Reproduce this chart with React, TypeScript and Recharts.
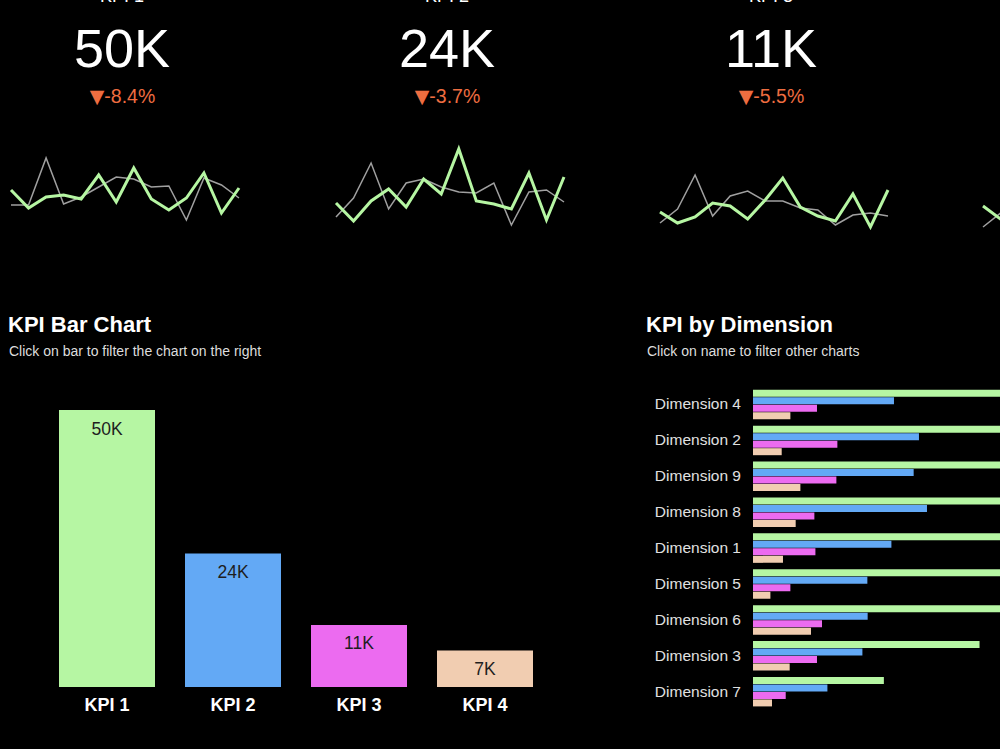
import React from 'react';
import { BarChart, Bar, XAxis, YAxis, LineChart, Line, LabelList, Cell } from 'recharts';

const FONT = '"Liberation Sans", Arial, Helvetica, sans-serif';

// KPI summary
const kpiNames = ['KPI 1', 'KPI 2', 'KPI 3', 'KPI 4'];
const kpiTotals = [50000, 24100, 11200, 6600];
const kpiDeltas = [-8.4, -3.7, -5.5, -2.9];
const kpiColors = ['#b6f6a3', '#63a9f5', '#ec6bf0', '#f1cdb1'];

// Sparklines: current period (green) and previous period (gray)
const spark1Current = [40, 22, 33, 35, 31, 55, 28, 62, 31, 20, 32, 57, 17, 42];
const spark1Previous = [25, 25, 72, 26, 33, 43, 53, 51, 43, 44, 10, 52, 45, 32];
const spark2Current = [27, 9, 29, 41, 23, 51, 36, 81, 29, 26, 21, 57, 10, 53];
const spark2Previous = [13, 32, 67, 21, 47, 51, 43, 38, 37, 47, 5, 38, 40, 28];
const spark3Current = [18, 7, 13, 27, 24, 11, 30, 52, 23, 14, 9, 36, 3, 40];
const spark3Previous = [7, 21, 55, 14, 34, 39, 29, 29, 22, 20, 5, 15, 17, 14];
const spark4Current = [24, 11, 20, 30, 18, 26, 15, 34, 22, 12, 19, 28, 8, 25];
const spark4Previous = [3, 17, 30, 12, 22, 25, 18, 20, 16, 14, 6, 13, 15, 12];

const sparkCurrent = [spark1Current, spark2Current, spark3Current, spark4Current];
const sparkPrevious = [spark1Previous, spark2Previous, spark3Previous, spark4Previous];
const panelLefts = [5, 330, 654, 977];

// KPI by dimension
const dimensionNames = ['Dimension 4', 'Dimension 2', 'Dimension 9', 'Dimension 8', 'Dimension 1', 'Dimension 5', 'Dimension 6', 'Dimension 3', 'Dimension 7'];
const dimKpi1 = [6900, 6500, 6300, 6100, 6000, 5700, 5400, 4570, 2640];
const dimKpi2 = [2844, 3348, 3241, 3510, 2792, 2307, 2313, 2207, 1501];
const dimKpi3 = [1291, 1702, 1682, 1238, 1259, 754, 1392, 1291, 660];
const dimKpi4 = [754, 579, 956, 861, 605, 351, 1170, 740, 383];

const fmtK = (v: number) => `${Math.round(v / 1000)}K`;

function Sparkline({ current, previous, left }: { current: number[]; previous: number[]; left: number }) {
  const data = current.map((c, i) => ({ i, current: c, previous: previous[i] }));
  return (
    <div style={{ position: 'absolute', left, top: 130 }}>
      <LineChart width={240} height={110} data={data} margin={{ top: 10, right: 6, bottom: 10, left: 6 }}>
        <XAxis dataKey="i" hide />
        <YAxis hide domain={[0, 90]} />
        <Line type="linear" dataKey="previous" stroke="#a0a0a0" strokeWidth={1.5} dot={false} activeDot={false} isAnimationActive={false} />
        <Line type="linear" dataKey="current" stroke={kpiColors[0]} strokeWidth={3} dot={false} activeDot={false} isAnimationActive={false} />
      </LineChart>
    </div>
  );
}

const KpiTick = (props: any) => {
  const { x, y, payload } = props;
  return (
    <text x={x} y={y + 16} textAnchor="middle" fill="#ffffff" fontSize={18} fontWeight="bold" fontFamily={FONT}>
      {payload.value}
    </text>
  );
};

const BarValueLabel = (props: any) => {
  const { x, y, width, value } = props;
  return (
    <text x={x + width / 2} y={y + 24.5} textAnchor="middle" fill="#1e1e1e" fontSize={17.5} fontFamily={FONT}>
      {fmtK(value)}
    </text>
  );
};

export default function App() {
  const kpiBarData = kpiNames.map((name, i) => ({ name, value: kpiTotals[i] }));
  const dimData = dimensionNames.map((name, i) => ({
    name,
    kpi1: dimKpi1[i],
    kpi2: dimKpi2[i],
    kpi3: dimKpi3[i],
    kpi4: dimKpi4[i],
  }));

  return (
    <div style={{ position: 'fixed', left: 0, top: 0, width: 1000, height: 749, background: '#000', overflow: 'hidden', fontFamily: FONT }}>
      <svg width={1000} height={749} style={{ position: 'absolute', left: 0, top: 0 }}>
        {kpiNames.map((name, i) => {
          const cx = panelLefts[i] + 117;
          return (
            <g key={name}>
              <text x={cx} y={2} textAnchor="middle" fill="#ffffff" fontSize={18} fontFamily={FONT}>{name}</text>
              <text x={cx} y={67} textAnchor="middle" fill="#ffffff" fontSize={54} fontFamily={FONT}>{fmtK(kpiTotals[i])}</text>
              <text x={cx + 0.5} y={103} textAnchor="middle" fill="#ee6d40" fontSize={19.5} fontFamily={FONT}>
                <tspan fontFamily='"DejaVu Sans", sans-serif' fontSize={19}>▼</tspan>
                <tspan>{`${kpiDeltas[i].toFixed(1)}%`}</tspan>
              </text>
            </g>
          );
        })}
        <text x={8} y={331.5} fill="#ffffff" fontSize={22} fontWeight="bold" fontFamily={FONT}>KPI Bar Chart</text>
        <text x={9} y={356} fill="#dddddd" fontSize={14} fontFamily={FONT}>Click on bar to filter the chart on the right</text>
        <text x={646} y={331.5} fill="#ffffff" fontSize={22} fontWeight="bold" fontFamily={FONT}>KPI by Dimension</text>
        <text x={647} y={356} fill="#dddddd" fontSize={14} fontFamily={FONT}>Click on name to filter other charts</text>
      </svg>

      {kpiNames.map((name, i) => (
        <Sparkline key={name} current={sparkCurrent[i]} previous={sparkPrevious[i]} left={panelLefts[i]} />
      ))}

      <div style={{ position: 'absolute', left: 0, top: 380 }}>
        <BarChart width={600} height={350} data={kpiBarData} margin={{ top: 30, right: 52, bottom: 13, left: 44 }} barCategoryGap={15}>
          <XAxis dataKey="name" axisLine={false} tickLine={false} tick={<KpiTick />} height={30} interval={0} />
          <YAxis hide domain={[0, 50000]} />
          <Bar dataKey="value" isAnimationActive={false}>
            {kpiBarData.map((d, i) => (
              <Cell key={d.name} fill={kpiColors[i]} />
            ))}
            <LabelList dataKey="value" content={<BarValueLabel />} />
          </Bar>
        </BarChart>
      </div>

      <div style={{ position: 'absolute', left: 640, top: 370 }}>
        <BarChart layout="vertical" width={460} height={360} data={dimData} margin={{ top: 16, right: 0, bottom: 21, left: 0 }} barCategoryGap={3.8} barGap={0.5}>
          <XAxis type="number" hide domain={[0, 7000]} />
          <YAxis
            type="category"
            dataKey="name"
            width={113}
            axisLine={false}
            tickLine={false}
            tickMargin={6}
            interval={0}
            tick={{ fill: '#e0e0e0', fontSize: 15.5, fontFamily: FONT }}
          />
          <Bar dataKey="kpi1" fill={kpiColors[0]} isAnimationActive={false} />
          <Bar dataKey="kpi2" fill={kpiColors[1]} isAnimationActive={false} />
          <Bar dataKey="kpi3" fill={kpiColors[2]} isAnimationActive={false} />
          <Bar dataKey="kpi4" fill={kpiColors[3]} isAnimationActive={false} />
        </BarChart>
      </div>
    </div>
  );
}
